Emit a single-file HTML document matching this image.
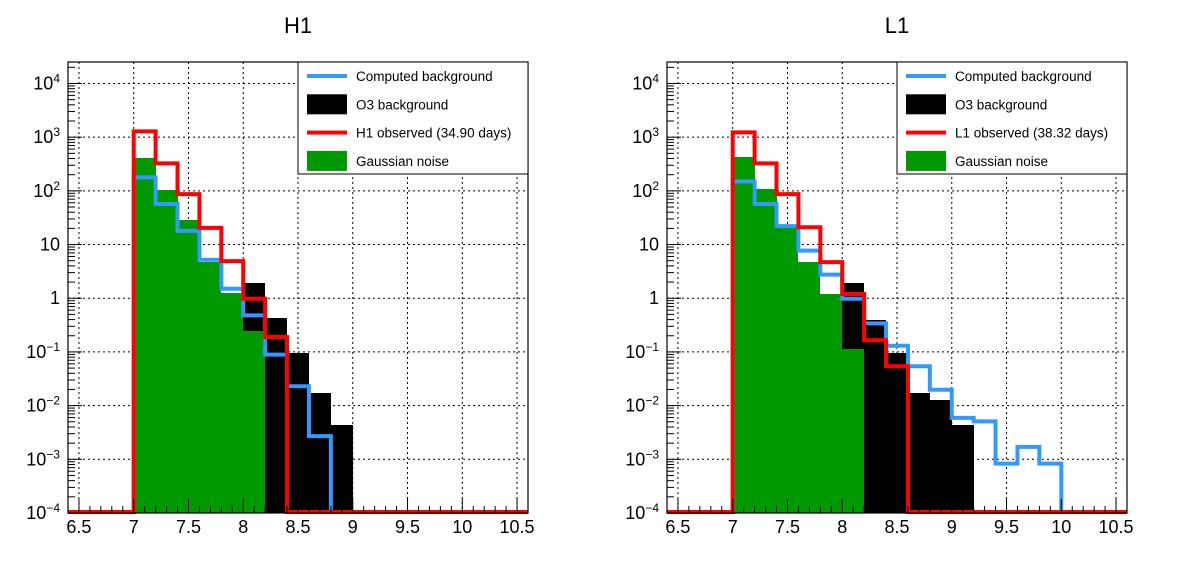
<!DOCTYPE html>
<html><head><meta charset="utf-8"><style>
body{margin:0;background:#fff;width:1198px;height:576px;overflow:hidden}
svg{display:block;font-family:"Liberation Sans",Arial,sans-serif}
</style></head><body>
<svg id="c" width="1198" height="576" xmlns="http://www.w3.org/2000/svg"></svg>
<script>
const binStart = 7.0, binWidth = 0.2;
const h1Red = [1280,325,87,20.4,4.9,0.98,0.19];
const h1Green = [410,102,28.6,4.8,1.26,0.25];
const h1Blue = [178,57,18,5.2,1.5,0.48,0.089,0.023,0.0027];
const h1Black = [0,0,0,0,0,1.93,0.43,0.096,0.0174,0.0044];
const l1Red = [1230,325,87,21,4.7,1.2,0.165,0.054];
const l1Green = [432,110,21,4.8,1.2,0.114];
const l1Blue = [150,57,22,7.7,2.75,0.98,0.34,0.13,0.054,0.0197,0.0059,0.0051,0.00083,0.0017,0.00083];
const l1Black = [0,0,0,0,0,1.93,0.40,0.096,0.0174,0.013,0.0043];
const xTicks = [6.5,7,7.5,8,8.5,9,9.5,10,10.5];
const yExps = [-4,-3,-2,-1,0,1,2,3,4];
const panels = [
 {name:"h1",title:"H1",x0:68,red:h1Red,green:h1Green,blue:h1Blue,black:h1Black,obs:"H1 observed (34.90 days)"},
 {name:"l1",title:"L1",x0:667,red:l1Red,green:l1Green,blue:l1Blue,black:l1Black,obs:"L1 observed (38.32 days)"}
];
const NS="http://www.w3.org/2000/svg";
const svg=document.getElementById('c');
function el(tag,attrs,parent){const e=document.createElementNS(NS,tag);for(const k in attrs)e.setAttribute(k,attrs[k]);(parent||svg).appendChild(e);return e;}
const XMIN=6.4,XMAX=10.6,YMIN=-4,YMAX=4.4,TOP=62,BOT=513,W=460;
panels.forEach(p=>{
 const g=el('g',{});
 
 
 const X=v=>p.x0+(v-XMIN)/(XMAX-XMIN)*W;
 const Y=v=>{if(v<=0)return BOT;let l=Math.log10(v);l=Math.max(YMIN,Math.min(YMAX,l));return BOT-(l-YMIN)/(YMAX-YMIN)*(BOT-TOP);};
 const t=el('text',{x:p.x0+W/2,y:33,'text-anchor':'middle','font-size':22},g);t.textContent=p.title;
 
 const grid=el('g',{stroke:'#000','stroke-width':1,'stroke-dasharray':'2,3'},g);
 
 xTicks.forEach(v=>el('line',{x1:X(v),x2:X(v),y1:TOP,y2:BOT},grid));
 yExps.forEach(e=>el('line',{x1:p.x0,x2:p.x0+W,y1:Y(Math.pow(10,e)),y2:Y(Math.pow(10,e))},grid));
 function fill(arr,color,nm){
  const gg=el('g',{fill:color,'shape-rendering':'crispEdges'},g);
  arr.forEach((v,i)=>{if(v<=0)return;const x1=Math.round(X(binStart+i*binWidth)),x2=Math.round(X(binStart+(i+1)*binWidth)),y=Math.round(Y(v));
   const r=el('rect',{x:x1,y:y,width:x2-x1,height:BOT-y},gg);});
 }
 fill(p.black,'#000','o3-background');
 fill(p.green,'#009900','gaussian-noise');
 function step(arr,color,nm){
  let d='M'+X(XMIN)+','+(BOT-1)+' L'+X(binStart)+','+(BOT-1);
  arr.forEach((v,i)=>{const y=Math.min(Y(v),BOT-1);d+=' L'+X(binStart+i*binWidth)+','+y+' L'+X(binStart+(i+1)*binWidth)+','+y;});
  d+=' L'+X(binStart+arr.length*binWidth)+','+(BOT-1)+' L'+X(XMAX)+','+(BOT-1);
  const pa=el('path',{d:d,fill:'none',stroke:color,'stroke-width':4,'stroke-linejoin':'miter'},g);
  
 }
 step(p.blue,'#3399ff','computed-background');
 step(p.red,'#ff0000','observed');
 const fr=el('rect',{x:p.x0,y:TOP,width:W,height:BOT-TOP,fill:'none',stroke:'#000','stroke-width':1.2},g);
 
 const ax=el('g',{stroke:'#000','stroke-width':1},g);
 for(let k=64;k<=106;k++){const v=k/10;const maj=(k%5===0);el('line',{x1:X(v),x2:X(v),y1:BOT,y2:BOT-(maj?14:7)},ax);}
 xTicks.forEach(v=>{const tt=el('text',{x:X(v),y:BOT+20,'text-anchor':'middle','font-size':18,stroke:'none',fill:'#000'},ax);tt.textContent=String(v);
  });
 const ay=el('g',{stroke:'#000','stroke-width':1},g);
 for(let e=-4;e<=4;e++){for(let m=1;m<=9;m++){const v=m*Math.pow(10,e);if(Math.log10(v)>YMAX)continue;const y=Y(v);el('line',{x1:p.x0,x2:p.x0+(m===1?14:7),y1:y,y2:y},ay);}}
 yExps.forEach(e=>{const y=Y(Math.pow(10,e));const tt=el('text',{x:p.x0-8,y:y+6,'text-anchor':'end','font-size':18,stroke:'none',fill:'#000'},ay);
  
  if(e===0)tt.textContent='1';else if(e===1)tt.textContent='10';
  else{tt.textContent='10';const ts=el('tspan',{dy:-7,'font-size':12},tt);ts.textContent=e<0?'\u2212'+(-e):String(e);}});
 const lx=p.x0+230,lg=el('g',{},g);
 el('rect',{x:lx,y:TOP,width:W-230,height:112,fill:'#fff',stroke:'#000','stroke-width':1},lg);
 const ents=[['line','#3399ff','Computed background'],['box','#000','O3 background'],['line','#ff0000',p.obs],['box','#009900','Gaussian noise']];
 ents.forEach((en,i)=>{const cy=TOP+14+i*28.3;const eg=el('g',{},lg);
  if(en[0]==='line')el('rect',{x:lx+9,y:cy-2,width:40,height:4,fill:en[1]},eg);else el('rect',{x:lx+9,y:cy-10,width:40,height:20,fill:en[1]},eg);
  const tt=el('text',{x:lx+58,y:cy+5,'font-size':13.5,fill:'#000'},eg);tt.textContent=en[2];});
});
</script>
</body></html>
